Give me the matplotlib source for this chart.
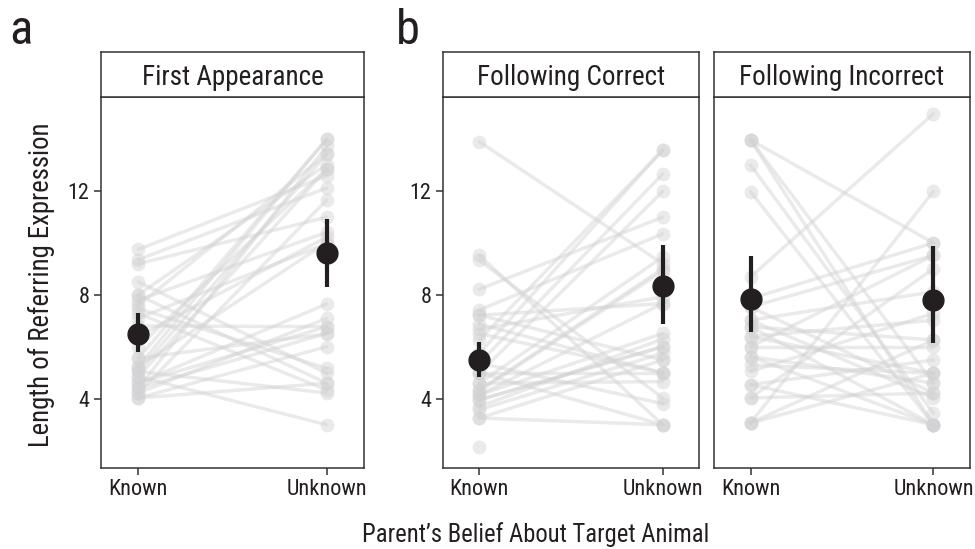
# grafico.py
import matplotlib
matplotlib.use("Agg")
import matplotlib.pyplot as plt
import numpy as np

# Dados (pares Known / Unknown por participante)
condicoes = ["First Appearance", "Following Correct", "Following Incorrect"]
rotulos_x = ["Known", "Unknown"]
ticks_y = [4, 8, 12]

primeira_known = [9.74, 9.35, 9.19, 8.49, 7.98, 7.79, 7.47, 7.28, 7.60, 7.10,
                  6.80, 6.40, 6.00, 5.56, 5.24, 5.05, 4.85, 4.60, 4.41, 4.22,
                  4.03, 4.85, 5.05, 4.60, 4.22, 4.41, 5.24, 4.03, 5.56, 8.00]
primeira_unknown = [12.57, 12.10, 10.98, 4.98, 4.60, 10.40, 5.17, 4.34, 13.40, 9.96,
                    6.77, 10.21, 12.83, 13.98, 13.98, 13.40, 12.83, 7.64, 6.51, 7.09,
                    6.00, 3.00, 4.22, 6.77, 11.64, 13.70, 10.00, 4.60, 6.50, 13.00]

correto_known = [13.88, 9.51, 9.32, 8.21, 7.41, 7.21, 6.87, 6.67, 6.26, 5.75,
                 5.37, 4.98, 4.60, 4.34, 4.15, 3.96, 3.58, 3.26, 3.26, 4.98,
                 4.60, 5.37, 4.15, 3.96, 7.21, 6.50, 2.14, 4.30, 5.00, 3.70]
correto_unknown = [9.19, 3.00, 4.03, 10.98, 10.34, 7.66, 5.00, 7.92, 13.56, 13.56,
                   12.64, 11.97, 9.45, 9.00, 6.51, 6.00, 5.75, 3.00, 5.49, 4.98,
                   4.66, 3.81, 7.66, 6.00, 5.49, 5.00, np.nan, 8.90, 3.00, 6.30]

incorreto_known = [13.95, 13.95, 13.95, 12.98, 11.96, 8.68, 7.85, 7.53, 7.02, 6.77,
                   6.39, 6.39, 6.00, 5.62, 5.30, 5.05, 4.54, 4.03, 4.03, 3.07,
                   3.07, 3.07, 7.02, 6.77, 5.62, 6.00, 4.54, 7.53]
incorreto_unknown = [9.99, 3.00, 4.60, 3.45, 3.00, 14.96, 9.99, 9.51, 8.11, 6.26,
                     7.02, 4.98, 6.00, 3.00, 4.98, 7.28, 3.00, 4.22, 9.00, 11.97,
                     4.98, 6.26, 4.03, 3.00, 4.60, 9.51, 5.49, 4.22]

# Medias e intervalos (Known, Unknown)
medias = [[6.48, 9.60], [5.49, 8.33], [7.83, 7.79]]
ic_inf = [[5.79, 8.28], [4.83, 6.86], [6.55, 6.13]]
ic_sup = [[7.28, 10.91], [6.17, 9.92], [9.47, 9.89]]

FONTE = ["Roboto Condensed", "Liberation Sans Narrow", "DejaVu Sans"]
plt.rcParams["font.family"] = FONTE
COR_TEXTO = "#231f20"
COR_EIXO = "#333333"
COR_CINZA = "#d2d2d4"
COR_MEDIA = "#231f20"


def desenhar_painel(ax, known, unknown, media, inf, sup, mostrar_y):
    """Desenha as linhas pareadas, os pontos e a media com intervalo."""
    pos = np.array([1, 2])
    for k, u in zip(known, unknown):
        if np.isnan(u):
            continue
        ax.plot(pos, [k, u], color=COR_CINZA, lw=2.5, alpha=0.45,
                solid_capstyle="round", zorder=1)
    ax.scatter(np.ones(len(known)), known, s=100, color=COR_CINZA, alpha=0.45,
               linewidths=0, zorder=2)
    unk = np.array(unknown, dtype=float)
    unk = unk[~np.isnan(unk)]
    ax.scatter(np.full(len(unk), 2), unk, s=100, color=COR_CINZA, alpha=0.45,
               linewidths=0, zorder=2)

    media = np.array(media)
    erros = np.array([media - np.array(inf), np.array(sup) - media])
    ax.errorbar(pos, media, yerr=erros, fmt="o", color=COR_MEDIA, ms=15,
                elinewidth=3.0, capsize=0, zorder=3)

    ax.set_xlim(0.8, 2.2)
    ax.set_ylim(1.35, 15.6)
    ax.set_xticks(pos)
    ax.set_xticklabels(rotulos_x)
    ax.set_yticks(ticks_y)
    if not mostrar_y:
        ax.tick_params(axis="y", left=False, labelleft=False)
    ax.tick_params(length=5, width=1.1, color=COR_EIXO, labelsize=16,
                   labelcolor=COR_TEXTO, pad=3)
    for lado in ax.spines.values():
        lado.set_color(COR_EIXO)
        lado.set_linewidth(1.1)


def desenhar_faixa(fig, caixa, texto):
    """Caixa com o titulo do painel, acima dele."""
    fx = fig.add_axes(caixa)
    fx.set_xticks([])
    fx.set_yticks([])
    for lado in fx.spines.values():
        lado.set_color(COR_EIXO)
        lado.set_linewidth(1.1)
    fx.text(0.5, 0.5, texto, ha="center", va="center_baseline", fontsize=19.5,
            color=COR_TEXTO, transform=fx.transAxes)


fig = plt.figure(figsize=(9.75, 5.49), dpi=100)

base, altura = 0.1481, 0.6752
faixa_base, faixa_altura = 0.8233, 0.082
esquerdas = [0.1033, 0.4541, 0.7323]
larguras = [0.2703, 0.2632, 0.2626]

dados = [(primeira_known, primeira_unknown),
         (correto_known, correto_unknown),
         (incorreto_known, incorreto_unknown)]

for i, (known, unknown) in enumerate(dados):
    ax = fig.add_axes([esquerdas[i], base, larguras[i], altura])
    desenhar_painel(ax, known, unknown, medias[i], ic_inf[i], ic_sup[i],
                    mostrar_y=(i < 2))
    desenhar_faixa(fig, [esquerdas[i], faixa_base, larguras[i], faixa_altura],
                   condicoes[i])

fig.text(0.0426, 1 - 285 / 549, "Length of Referring Expression",
         rotation=90, ha="center", va="center", fontsize=19.3, color=COR_TEXTO)
fig.text(0.549, 1 - 542 / 549, "Parent\u2019s Belief About Target Animal",
         ha="center", va="baseline", fontsize=17.7, color=COR_TEXTO)

fig.text(0.010, 1 - 43.5 / 549, "a", fontsize=35, color=COR_TEXTO, va="baseline")
fig.text(0.406, 1 - 43.5 / 549, "b", fontsize=35, color=COR_TEXTO, va="baseline")

fig.savefig("out.png", dpi=100)
